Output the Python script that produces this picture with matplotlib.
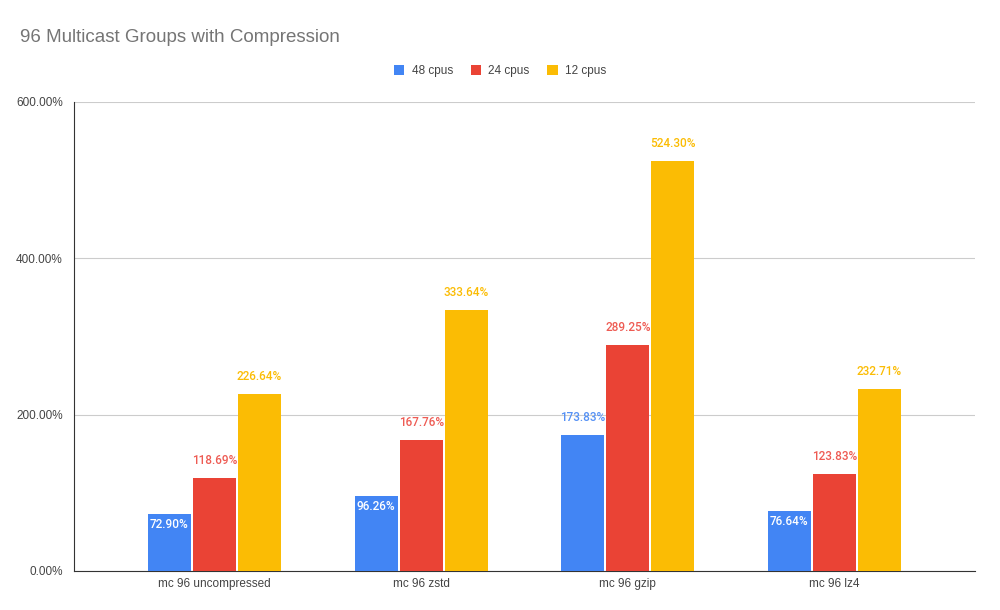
import numpy as np
import matplotlib.pyplot as plt
from matplotlib.ticker import FuncFormatter

plt.rcParams["font.family"] = ["Liberation Sans", "DejaVu Sans"]

categories = ["mc 96 uncompressed", "mc 96 zstd", "mc 96 gzip", "mc 96 lz4"]
series_names = ["48 cpus", "24 cpus", "12 cpus"]
cpus_48 = [72.90, 96.26, 173.83, 76.64]
cpus_24 = [118.69, 167.76, 289.25, 123.83]
cpus_12 = [226.64, 333.64, 524.30, 232.71]

colors = ["#4285F4", "#EA4335", "#FBBC04"]
label_colors = ["#5591F5", "#EE5B53", "#FBBC04"]

fig = plt.figure(figsize=(10, 6.1), dpi=100)
ax = fig.add_axes([0.074, 0.064, 0.901, 0.769])

x = np.arange(len(categories))
width = 0.208
for i, (vals, name, col) in enumerate(zip([cpus_48, cpus_24, cpus_12], series_names, colors)):
    pos = x + (i - 1) * (width + 0.01)
    bars = ax.bar(pos, vals, width, color=col, label=name, zorder=3)
    for b, v in zip(bars, vals):
        label = f"{v:.2f}%"
        if i == 0 and v < 120:
            ax.annotate(label, (b.get_x() + b.get_width() / 2, v), xytext=(0, -3),
                        textcoords="offset points", ha="center", va="top",
                        fontsize=8.5, color="white", family="Roboto",
                        fontweight="medium")
        else:
            ax.annotate(label, (b.get_x() + b.get_width() / 2, v), xytext=(0, 8),
                        textcoords="offset points", ha="center", va="bottom",
                        fontsize=8.5, color=label_colors[i], family="Roboto",
                        fontweight="medium")

ax.set_xlim(-0.68, 3.68)
ax.set_ylim(0, 600)
ax.set_yticks([0, 200, 400, 600])
ax.yaxis.set_major_formatter(FuncFormatter(lambda v, p: f"{v:.2f}%"))
ax.set_xticks(x)
ax.set_xticklabels(categories)
ax.tick_params(axis="both", length=0, labelsize=8.5, labelcolor="#444444")
ax.tick_params(axis="y", pad=8)
ax.tick_params(axis="x", pad=5)
ax.grid(axis="y", color="#cccccc", linewidth=0.8, zorder=0)
for s in ["top", "right"]:
    ax.spines[s].set_visible(False)
ax.spines["left"].set_color("#333333")
ax.spines["bottom"].set_color("#333333")

fig.text(0.02, 0.938, "96 Multicast Groups with Compression", fontsize=13.5,
         color="#757575", va="center")
fig.legend(loc="center", bbox_to_anchor=(0.5, 0.884), ncol=3, frameon=False,
           fontsize=8.5, handlelength=0.9, handleheight=0.9, columnspacing=1.5,
           labelcolor="#444444", handletextpad=0.6)

fig.savefig("out.png")
